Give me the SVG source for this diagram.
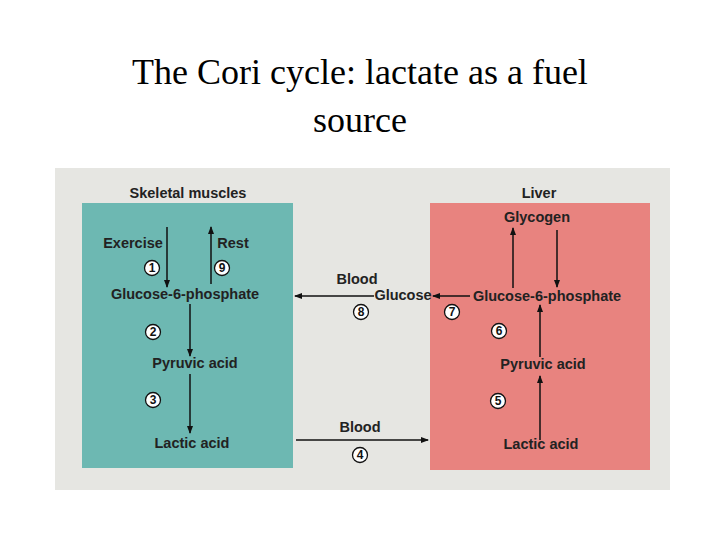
<svg xmlns="http://www.w3.org/2000/svg" width="720" height="540" viewBox="0 0 720 540">
<style>
.t{font-family:"Liberation Serif",serif;font-size:36px;fill:#000;text-anchor:middle}
.l{font-family:"Liberation Sans",Arial,sans-serif;font-weight:bold;font-size:14.5px;fill:#222;text-anchor:middle}
.n{font-family:"Liberation Sans",Arial,sans-serif;font-weight:bold;font-size:12px;fill:#111;text-anchor:middle}
.c{fill:#fff;stroke:#111;stroke-width:1.3}
.a{stroke:#111;stroke-width:1.5;fill:none;marker-end:url(#ah)}
</style>
<defs><marker id="ah" markerWidth="8" markerHeight="8" refX="7" refY="4" orient="auto" markerUnits="userSpaceOnUse"><path d="M0,1 L8,4 L0,7 Z" fill="#111"/></marker></defs>
<rect width="720" height="540" fill="#fff"/>
<text class="t" x="360" y="84">The Cori cycle: lactate as a fuel</text>
<text class="t" x="360" y="132">source</text>
<rect x="55" y="168" width="615" height="322" fill="#e6e6e2"/>
<g id="muscle">
<rect x="82" y="203" width="211" height="265" fill="#6db8b2"/>
<text class="l" x="188" y="198">Skeletal muscles</text>
<text class="l" x="133" y="248">Exercise</text>
<text class="l" x="233" y="248">Rest</text>
<text class="l" x="185" y="299">Glucose-6-phosphate</text>
<text class="l" x="195" y="368">Pyruvic acid</text>
<text class="l" x="192" y="448">Lactic acid</text>
</g>
<g id="liver">
<rect x="430" y="203" width="220" height="267" fill="#e8837f"/>
<text class="l" x="539" y="198">Liver</text>
<text class="l" x="537" y="222">Glycogen</text>
<text class="l" x="547" y="301">Glucose-6-phosphate</text>
<text class="l" x="543" y="369">Pyruvic acid</text>
<text class="l" x="541" y="449">Lactic acid</text>
</g>
<g id="blood">
<text class="l" x="357" y="284">Blood</text>
<text class="l" x="403" y="300">Glucose</text>
<text class="l" x="360" y="432">Blood</text>
</g>
<g id="steps">
<circle class="c" cx="152" cy="268" r="7.5"/><text class="n" x="152" y="272">1</text>
<circle class="c" cx="222" cy="268" r="7.5"/><text class="n" x="222" y="272">9</text>
<circle class="c" cx="153" cy="332" r="7.5"/><text class="n" x="153" y="336">2</text>
<circle class="c" cx="153" cy="400" r="7.5"/><text class="n" x="153" y="404">3</text>
<circle class="c" cx="360" cy="455" r="7.5"/><text class="n" x="360" y="459">4</text>
<circle class="c" cx="498" cy="401" r="7.5"/><text class="n" x="498" y="405">5</text>
<circle class="c" cx="499" cy="331" r="7.5"/><text class="n" x="499" y="335">6</text>
<circle class="c" cx="452" cy="312" r="7.5"/><text class="n" x="452" y="316">7</text>
<circle class="c" cx="361" cy="312" r="7.5"/><text class="n" x="361" y="316">8</text>
</g>
<g id="connectors">
<line class="a" x1="167" y1="227" x2="167" y2="287"/>
<line class="a" x1="211" y1="284" x2="211" y2="227"/>
<line class="a" x1="190" y1="304" x2="190" y2="356"/>
<line class="a" x1="190" y1="374" x2="190" y2="433"/>
<line class="a" x1="374" y1="296" x2="295" y2="296"/>
<line class="a" x1="296" y1="440" x2="428" y2="440"/>
<line class="a" x1="513" y1="288" x2="513" y2="228"/>
<line class="a" x1="557" y1="230" x2="557" y2="287"/>
<line class="a" x1="470" y1="296" x2="433" y2="296"/>
<line class="a" x1="540" y1="357" x2="540" y2="305"/>
<line class="a" x1="540" y1="440" x2="540" y2="376"/>
</g>
</svg>
